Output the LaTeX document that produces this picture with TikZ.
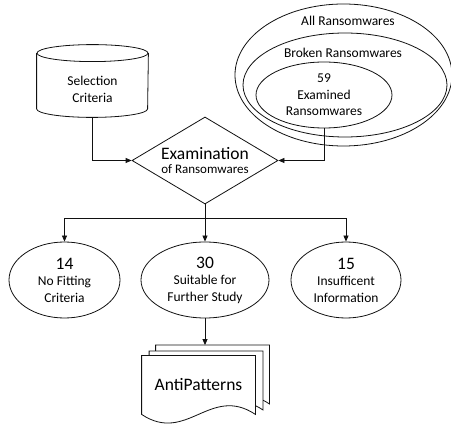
\documentclass[tikz,border=0pt]{standalone}
\usepackage{fontspec}
\setmainfont{Carlito}
\usepackage{tikz}
\usetikzlibrary{arrows.meta,positioning,shapes.geometric,calc,backgrounds}
\definecolor{ink}{HTML}{111111}
\newcommand{\smallfont}{\fontsize{13.5}{16.5}\selectfont}
\newcommand{\bigfont}{\fontsize{17.5}{19}\selectfont}
% outline of one sheet of the stacked document
\newcommand{\sheet}[1]{%
  \draw[outline, fill=white] (#1.north west) -- (#1.north east) -- (#1.south east)
    .. controls ($(#1.south east)+(-45,-30)$) and ($(#1.south west)+(45,30)$) .. (#1.south west) -- cycle;}
% drum (data store) round a node that holds its body
\newcommand{\drum}[1]{%
  \draw[outline, fill=white] ($(#1.north west)+(0,-8.5)$) -- ($(#1.south west)+(0,-8.5)$)
    arc (180:360:55.5pt and 8.5pt) -- ($(#1.north east)+(0,-8.5)$);
  \draw[outline] ($(#1.north)+(0,-8.5)$) ellipse (55.5pt and 8.5pt);}
\tikzset{
  outline/.style={draw=ink, line width=0.8pt},
  store/.style={align=center, minimum width=111pt, minimum height=55pt, inner sep=0pt, font=\smallfont},
  decision/.style={diamond, draw=ink, fill=white, align=center, aspect=1.68, inner sep=0pt, minimum width=146pt, minimum height=87pt},
  setring/.style={ellipse, draw=ink, inner sep=0pt},
  outcome/.style={ellipse, draw=ink, fill=white, align=center, inner sep=0pt, minimum height=76pt, font=\smallfont},
  docpage/.style={inner sep=0pt, minimum width=113pt, minimum height=58pt},
  arrow/.style={-{Triangle[length=6pt,width=5pt]}, draw=ink},
  link/.style={draw=ink}
}
\begin{document}
\begin{tikzpicture}[x=1pt, y=-1pt, line width=0.8pt]
  \useasboundingbox (0,0) rectangle (451,425);

  \node[store] (criteria) at (92.5,89.5) {Selection\\Criteria};

  \node[setring, minimum width=217pt, minimum height=142pt] (all) at (343.5,75) {};
  \node[setring, minimum width=204pt, minimum height=104pt] (broken) at (345,85) {};
  \node[setring, minimum width=136pt, minimum height=66pt, align=center, font=\smallfont] (examined) at (324,95) {59\\Examined\\Ransomwares};
  \node[font=\smallfont] (alltext) at (348,21) {All Ransomwares};
  \node[font=\smallfont] (brokentext) at (343,53) {Broken Ransomwares};

  \node[decision] (exam) at (205,160.5) {\bigfont Examination\\[2pt]\fontsize{13}{15}\selectfont of Ransomwares};

  \node[outcome, minimum width=111pt] (nofit) at (64.5,280) {{\bigfont 14}\\No Fitting\\Criteria};
  \node[outcome, minimum width=128pt] (suitable) at (205,280) {{\bigfont 30}\\Suitable for\\Further Study};
  \node[outcome, minimum width=110pt] (insufficient) at (346,280) {{\bigfont 15}\\Insufficent\\Information};

  \node[docpage] (back) at (212.5,374.5) {};
  \node[docpage] (mid) at (206,380.5) {};
  \node[docpage, font=\bigfont] (front) at (198.5,385) {AntiPatterns};
  \begin{scope}[on background layer]
    \drum{criteria}
    \sheet{back}
    \sheet{mid}
    \sheet{front}
  \end{scope}

  \coordinate (split) at ($(exam.south)+(0,14)$);
  \draw[arrow] (criteria.south) |- (exam.west);
  \draw[arrow] (examined.south) |- (exam.east);
  \draw[link] (exam.south) -- (split);
  \draw[arrow] (split) -| (nofit.north);
  \draw[arrow] (split) -- (suitable.north);
  \draw[arrow] (split) -| (insufficient.north);
  \draw[arrow] (suitable.south) -- (suitable.south |- back.north);
\end{tikzpicture}
\end{document}
